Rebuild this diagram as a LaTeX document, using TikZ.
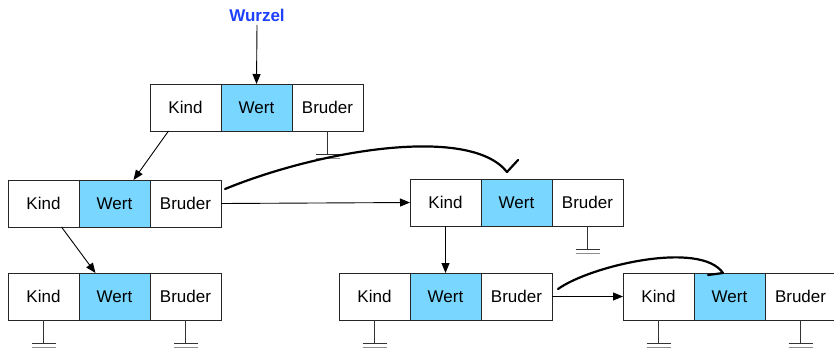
\documentclass[tikz,border=0pt]{standalone}
\usepackage{fontspec}
\setmainfont{Liberation Sans}
\usetikzlibrary{arrows.meta,calc}
\definecolor{wertblue}{RGB}{120,214,255}
\definecolor{rootblue}{RGB}{30,64,255}
\tikzset{
  cell/.style={draw=black!85, line width=0.9pt, minimum width=71pt, minimum height=47pt,
    inner sep=0pt, outer sep=0pt, anchor=north west, font=\fontsize{17pt}{19pt}\selectfont, fill=white},
  wert/.style={cell, fill=wertblue},
  arr/.style={line width=0.9pt, -{Triangle[length=10pt,width=8pt]}},
  gstem/.style={line width=0.9pt, black!80},
  gbar/.style={line width=0.9pt, black!80},
  gbar2/.style={line width=0.9pt, black!45},
  hand/.style={line width=2.2pt, line cap=round, line join=round}
}
\newcommand{\record}[3]{%
  \node[cell] (#1a) at (#2,#3) {Kind};
  \node[wert] (#1b) at (#2+71,#3) {Wert};
  \node[cell] (#1c) at (#2+142,#3) {Bruder};
}
\newcommand{\ground}[2]{%
  \coordinate (#2) at ($(#1.south)+(0,23)$);
  \draw[gstem] (#1.south) -- (#2);
  \draw[gbar] ($(#2)+(-12,0)$) -- ($(#2)+(12,0)$);
  \draw[gbar2] ($(#2)+(-12,4)$) -- ($(#2)+(12,4)$);
}
\begin{document}
\begin{tikzpicture}[x=1pt,y=-1pt]
\useasboundingbox (0,0) rectangle (834,349);
% records
\record{r}{150}{84}
\record{a}{8}{180}
\record{b}{410}{179}
\record{c}{8}{273}
\record{d}{339}{273}
\record{e}{623}{273}
% root label
\node[font=\bfseries\fontsize{17pt}{19pt}\selectfont, text=rootblue] (wurzel) at (257,15) {Wurzel};
\draw[arr] (wurzel.south) -- (rb.north);
% child arrows
\coordinate (rkid) at ($(ra.south)+(-17,0)$);
\coordinate (awert) at ($(ab.north)+(19,0)$);
\draw[arr] (rkid) -- (awert);
\coordinate (akid) at ($(aa.south)+(18,0)$);
\coordinate (cwert) at ($(cb.north)+(-19,0)$);
\draw[arr] (akid) -- (cwert);
\draw[arr] (ba.south) -- (db.north);
% sibling arrows
\draw[arr] (ac.east) -- (ba.west);
\draw[arr] (dc.east) -- (ea.west);
% grounds
\ground{rc}{g1}
\ground{bc}{g2}
\ground{ca}{g3}
\ground{cc}{g4}
\ground{da}{g5}
\ground{ea}{g6}
\ground{ec}{g7}
% hand drawn curves
\coordinate (h1s) at (225,189);
\coordinate (h1e) at (507,172);
\draw[hand] (h1s) .. controls (320,150) and (470,125) .. (h1e) -- (518,160);
\coordinate (h2s) at (558,289);
\coordinate (h2e) at (723,273);
\draw[hand] (h2s) .. controls (590,266) and (700,240) .. (h2e);
\draw[hand] (708,275) -- (h2e);
\end{tikzpicture}
\end{document}
